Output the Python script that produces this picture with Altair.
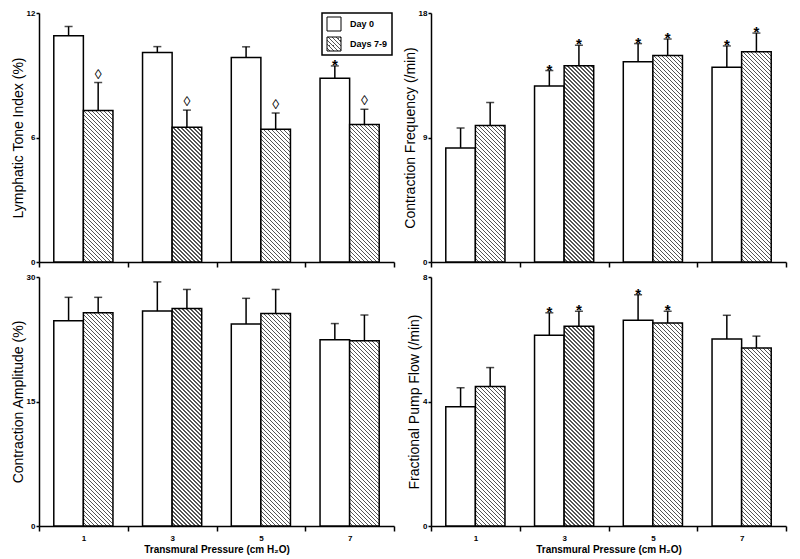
import math
import altair as alt
import pandas as pd

# ---------------- data ----------------
pressures = ["1", "3", "5", "7"]
groups = ["Day 0", "Days 7-9"]

tone_day0 = [10.9, 10.1, 9.85, 8.85]
tone_day0_err = [0.45, 0.28, 0.52, 0.60]
tone_d79 = [7.3, 6.5, 6.4, 6.63]
tone_d79_err = [1.35, 0.82, 0.78, 0.73]
tone_sig0 = ["", "", "", "*"]
tone_sig79 = ["◊", "◊", "◊", "◊"]

freq_day0 = [8.25, 12.72, 14.48, 14.07]
freq_day0_err = [1.43, 1.12, 1.31, 1.55]
freq_d79 = [9.87, 14.19, 14.93, 15.19]
freq_d79_err = [1.66, 1.48, 1.19, 1.36]
freq_sig0 = ["", "*", "*", "*"]
freq_sig79 = ["", "*", "*", "*"]

amp_day0 = [24.74, 25.89, 24.35, 22.45]
amp_day0_err = [2.81, 3.52, 3.08, 1.94]
amp_d79 = [25.69, 26.21, 25.61, 22.33]
amp_d79_err = [1.86, 2.29, 2.89, 3.09]
amp_sig0 = ["", "", "", ""]
amp_sig79 = ["", "", "", ""]

flow_day0 = [3.83, 6.13, 6.61, 6.01]
flow_day0_err = [0.61, 0.72, 0.82, 0.76]
flow_d79 = [4.48, 6.42, 6.52, 5.72]
flow_d79_err = [0.61, 0.48, 0.38, 0.38]
flow_sig0 = ["", "*", "*", ""]
flow_sig79 = ["", "*", "*", ""]

# ---------------- layout / style ----------------
W = 355
H = 249
STEP = W / len(pressures)
BAR_W = STEP / 3
FONT = "Liberation Sans"


def hatch(w, h, period=4.0, dark=0.3, light_c="#ffffff", dark_c="#555555"):
    """Linear gradient with hard stops that renders 45-degree hatching on a w x h box."""
    h = max(h, 1.0)
    s = (w + h) / (w * w + h * h)
    n = (w + h) / period
    stops = []
    k = 0
    while k < n:
        a = min(k / n, 1.0)
        b = min((k + 1 - dark) / n, 1.0)
        c = min((k + 1) / n, 1.0)
        stops += [
            {"offset": a, "color": light_c},
            {"offset": b, "color": light_c},
            {"offset": b, "color": dark_c},
            {"offset": c, "color": dark_c},
        ]
        k += 1
    return {"gradient": "linear", "x1": 0, "y1": 1, "x2": s * w, "y2": 1 - s * h, "stops": stops}


def panel(title, ymax, d0, e0, d79, e79, s0, s79, bottom, legend=False):
    rows = []
    for i, p in enumerate(pressures):
        for g, vals, errs, sigs in ((groups[0], d0, e0, s0), (groups[1], d79, e79, s79)):
            v = vals[i]
            fill = "#ffffff" if g == groups[0] else hatch(BAR_W, v / ymax * H)
            rows.append(dict(p=p, group=g, mean=v, upper=v + errs[i], sig=sigs[i], fill=fill))
    df = pd.DataFrame(rows)

    xaxis = alt.Axis(
        tickBand="extent", labelAngle=0, labels=bottom, tickSize=5,
        title="Transmural Pressure (cm H₂O)" if bottom else None,
        labelFontSize=8, labelFontWeight="bold", labelPadding=3,
        titleFontSize=10, titleFontWeight="bold", titlePadding=2,
    )
    x = alt.X("p:O", sort=pressures, scale=alt.Scale(paddingInner=0, paddingOuter=0), axis=xaxis)
    xo = alt.XOffset("group:N", sort=groups, scale=alt.Scale(paddingInner=0, paddingOuter=0.5))
    yscale = alt.Scale(domain=[0, ymax], nice=False, zero=True)
    yaxis = alt.Axis(
        values=[0, ymax / 2, ymax], title=title, tickSize=3, labelFontSize=8,
        labelFontWeight="bold", labelPadding=1, titleFontSize=14, titleFontWeight="normal",
        titlePadding=1,
    )

    base = alt.Chart(df)
    bars = base.mark_bar(stroke="black", strokeWidth=1.5).encode(
        x=x, xOffset=xo,
        y=alt.Y("mean:Q", scale=yscale, axis=yaxis, stack=None),
        fill=alt.Fill("fill:N", scale=None, legend=None),
    )
    err = base.mark_rule(color="black", strokeWidth=1.5).encode(
        x=x, xOffset=xo, y=alt.Y("mean:Q", scale=yscale), y2="upper:Q"
    )
    cap = base.mark_tick(color="black", thickness=1.5, size=8, orient="horizontal").encode(
        x=x, xOffset=xo, y=alt.Y("upper:Q", scale=yscale)
    )
    stars = base.transform_filter("datum.sig == '*'").mark_text(
        font=FONT, fontSize=15, fontWeight="bold", baseline="alphabetic", dy=4, color="black"
    ).encode(x=x, xOffset=xo, y=alt.Y("upper:Q", scale=yscale), text="sig:N")
    dia = base.transform_filter("datum.sig == '◊'").mark_text(
        font=FONT, fontSize=14, baseline="alphabetic", dy=-4, color="black"
    ).encode(x=x, xOffset=xo, y=alt.Y("upper:Q", scale=yscale), text="sig:N")

    layers = [bars, err, cap, stars, dia]

    if legend:
        one = pd.DataFrame({"k": [0]})
        lg = alt.Chart(one)
        x0 = W - 72
        box = lg.mark_rect(fill="white", stroke="black", strokeWidth=1.5).encode(
            x=alt.value(x0), x2=alt.value(x0 + 70), y=alt.value(0), y2=alt.value(42)
        )
        sw1 = lg.mark_rect(fill="white", stroke="black", strokeWidth=1).encode(
            x=alt.value(x0 + 5), x2=alt.value(x0 + 19), y=alt.value(4), y2=alt.value(18)
        )
        sw2 = lg.mark_rect(fill=hatch(14, 14), stroke="black", strokeWidth=1).encode(
            x=alt.value(x0 + 5), x2=alt.value(x0 + 19), y=alt.value(24), y2=alt.value(38)
        )
        t1 = alt.Chart(pd.DataFrame({"label": [groups[0]]})).mark_text(
            font=FONT, fontSize=9, fontWeight="bold", align="left", baseline="middle"
        ).encode(x=alt.value(x0 + 28), y=alt.value(11), text="label:N")
        t2 = alt.Chart(pd.DataFrame({"label": [groups[1]]})).mark_text(
            font=FONT, fontSize=9, fontWeight="bold", align="left", baseline="middle"
        ).encode(x=alt.value(x0 + 28), y=alt.value(31), text="label:N")
        layers += [box, sw1, sw2, t1, t2]

    return alt.layer(*layers).properties(width=W, height=H)


tl = panel("Lymphatic Tone Index (%)", 12, tone_day0, tone_day0_err, tone_d79, tone_d79_err,
           tone_sig0, tone_sig79, bottom=False, legend=True)
tr = panel("Contraction Frequency (/min)", 18, freq_day0, freq_day0_err, freq_d79, freq_d79_err,
           freq_sig0, freq_sig79, bottom=False)
bl = panel("Contraction Amplitude (%)", 30, amp_day0, amp_day0_err, amp_d79, amp_d79_err,
           amp_sig0, amp_sig79, bottom=True)
br = panel("Fractional Pump Flow (/min)", 8, flow_day0, flow_day0_err, flow_d79, flow_d79_err,
           flow_sig0, flow_sig79, bottom=True)

chart = alt.concat(tl, tr, bl, br, columns=2, spacing={"row": 5, "column": 8}).configure_view(
    stroke=None
).configure_axis(
    grid=False, domainColor="black", domainWidth=1.5, tickColor="black", tickWidth=1.5,
    labelColor="black", titleColor="black", labelFont=FONT, titleFont=FONT,
).properties(background="white", padding={"left": 3, "top": 1, "right": 2, "bottom": 1})

chart.save("out.html", embed_options={"renderer": "svg", "actions": False})
